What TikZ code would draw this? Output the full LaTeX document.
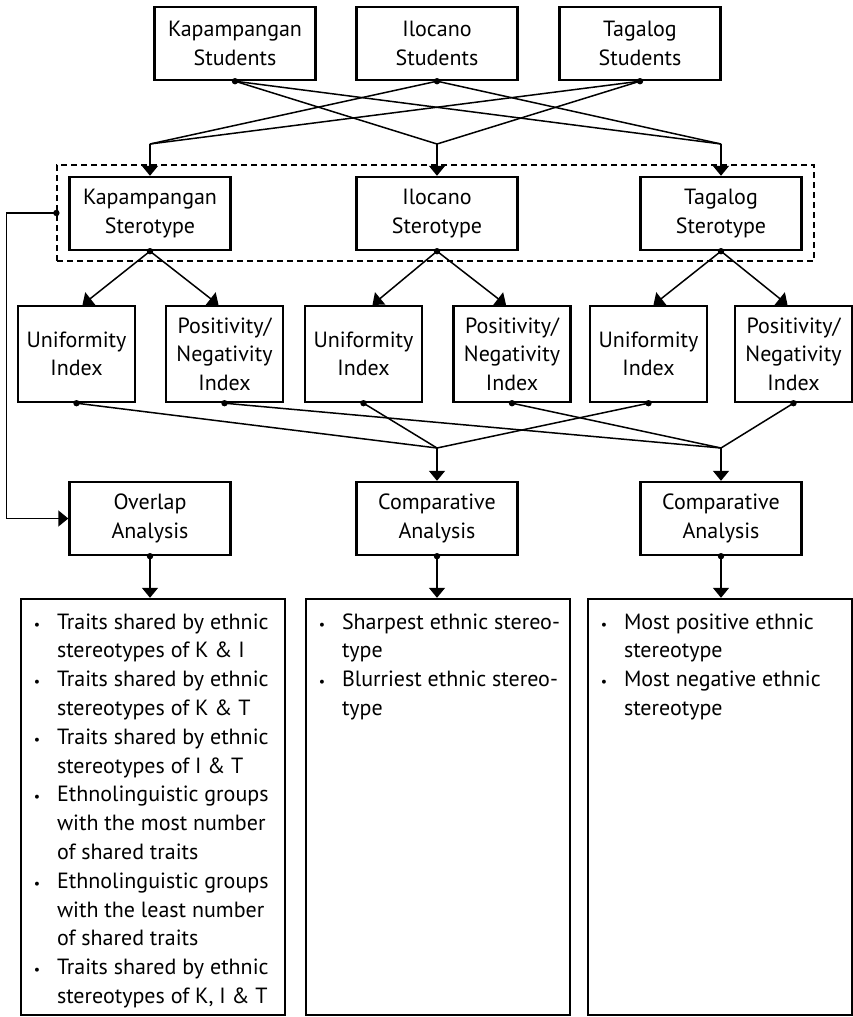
\documentclass[tikz,border=0pt]{standalone}
\usepackage{fontspec}
\setmainfont{PT Sans}
\usetikzlibrary{arrows.meta,positioning,calc}

\newcommand{\bitem}{\makebox[20pt]{\fontsize{14}{14}\selectfont\textbullet}}
\newcommand{\itemlist}[1]{\begin{minipage}[c][416pt][t]{264pt}%
  \vspace*{10pt}\hspace*{6pt}\begin{tabular}[t]{@{}l@{\hspace{10pt}}l@{}}#1\end{tabular}\end{minipage}}

\begin{document}
\begin{tikzpicture}[x=1pt, y=-1pt,
    box/.style={draw, line width=2.4pt, minimum width=161pt, minimum height=73pt, inner sep=0pt, align=center, font=\fontsize{22}{28.5}\selectfont},
    idx/.style={box, minimum width=117pt, minimum height=96pt},
    listbox/.style={draw, line width=2.4pt, inner sep=0pt, font=\fontsize{22}{28.8}\selectfont},
    link/.style={line width=1.5pt},
    arr/.style={link, -{Triangle[width=16pt,length=10pt]}}]
  \useasboundingbox (0,0) rectangle (853,1017);

  % students
  \node[box] (kstud) at (235,43.5) {Kapampangan\\Students};
  \node[box] (istud) at (437,43.5) {Ilocano\\Students};
  \node[box] (tstud) at (640,43.5) {Tagalog\\Students};

  % stereotypes
  \node[draw, dashed, line width=1.2pt, dash pattern=on 6pt off 4pt, minimum width=757pt, minimum height=96pt] (group) at (435.5,213) {};
  \node[box] (kster) at (150,213.5) {Kapampangan\\Sterotype};
  \node[box] (ister) at (437,213.5) {Ilocano\\Sterotype};
  \node[box] (tster) at (721,213.5) {Tagalog\\Sterotype};

  % indices
  \node[idx] (ui1) at (76.5,354) {Uniformity\\Index};
  \node[idx] (pn1) at (224.5,354) {Positivity/\\Negativity\\Index};
  \node[idx] (ui2) at (363.5,354) {Uniformity\\Index};
  \node[idx] (pn2) at (512,354) {Positivity/\\Negativity\\Index};
  \node[idx] (ui3) at (648.5,354) {Uniformity\\Index};
  \node[idx] (pn3) at (793.5,354) {Positivity/\\Negativity\\Index};

  % analyses
  \node[box] (overlap) at (150,518.5) {Overlap\\Analysis};
  \node[box] (comp1) at (437,518.5) {Comparative\\Analysis};
  \node[box] (comp2) at (721,518.5) {Comparative\\Analysis};

  % results
  \node[listbox] (list1) at (153,807) {\itemlist{%
    \bitem & Traits shared by ethnic\\ & stereotypes of K \& I\\
    \bitem & Traits shared by ethnic\\ & stereotypes of K \& T\\
    \bitem & Traits shared by ethnic\\ & stereotypes of I \& T\\
    \bitem & Ethnolinguistic groups\\ & with the most number\\ & of shared traits\\
    \bitem & Ethnolinguistic groups\\ & with the least number\\ & of shared traits\\
    \bitem & Traits shared by ethnic\\ & stereotypes of K, I \& T}};
  \node[listbox] (list2) at (438,807) {\itemlist{%
    \bitem & Sharpest ethnic stereo-\\ & type\\
    \bitem & Blurriest ethnic stereo-\\ & type}};
  \node[listbox] (list3) at (720,807) {\itemlist{%
    \bitem & Most positive ethnic\\ & stereotype\\
    \bitem & Most negative ethnic\\ & stereotype}};

  % students -> stereotypes
  \coordinate (mk) at (150,144);
  \coordinate (mi) at (437,144);
  \coordinate (mt) at (721,144);
  \draw[link] (kstud.south) -- (mi);
  \draw[link] (kstud.south) -- (mt);
  \draw[link] (istud.south) -- (mk);
  \draw[link] (istud.south) -- (mt);
  \draw[link] (tstud.south) -- (mk);
  \draw[link] (tstud.south) -- (mi);
  \draw[arr] (mk) -- (kster);
  \draw[arr] (mi) -- (ister);
  \draw[arr] (mt) -- (tster);

  % stereotypes -> indices
  \draw[arr] (kster.south) -- ($(ui1.north)+(6,0)$);
  \draw[arr] (kster.south) -- ($(pn1.north)+(-6,0)$);
  \draw[arr] (ister.south) -- ($(ui2.north)+(9,0)$);
  \draw[arr] (ister.south) -- ($(pn2.north)+(-6,0)$);
  \draw[arr] (tster.south) -- ($(ui3.north)+(5,0)$);
  \draw[arr] (tster.south) -- ($(pn3.north)+(-6,0)$);

  % indices -> comparisons
  \coordinate (mc) at (437,448);
  \coordinate (mr) at (721,448);
  \draw[link] (ui1.south) -- (mc);
  \draw[link] (ui2.south) -- (mc);
  \draw[link] (ui3.south) -- (mc);
  \draw[link] (pn1.south) -- (mr);
  \draw[link] (pn2.south) -- (mr);
  \draw[link] (pn3.south) -- (mr);
  \draw[arr] (mc) -- (comp1);
  \draw[arr] (mr) -- (comp2);

  % overlap feedback
  \draw[arr] (group.west) -- ++(-50,0) |- (overlap.west);

  % analyses -> results
  \draw[arr] (overlap.south) -- (overlap.south |- list1.north);
  \draw[arr] (comp1.south) -- (comp1.south |- list2.north);
  \draw[arr] (comp2.south) -- (comp2.south |- list3.north);

  % dots
  \fill (kstud.south) circle (3.2pt) (istud.south) circle (3.2pt) (tstud.south) circle (3.2pt);
  \fill (kster.south) circle (3.2pt) (ister.south) circle (3.2pt) (tster.south) circle (3.2pt);
  \fill (ui1.south) circle (3.2pt) (pn1.south) circle (3.2pt) (ui2.south) circle (3.2pt);
  \fill (pn2.south) circle (3.2pt) (ui3.south) circle (3.2pt) (pn3.south) circle (3.2pt);
  \fill (overlap.south) circle (3.2pt) (comp1.south) circle (3.2pt) (comp2.south) circle (3.2pt);
  \fill (group.west) circle (3.2pt);
\end{tikzpicture}
\end{document}
